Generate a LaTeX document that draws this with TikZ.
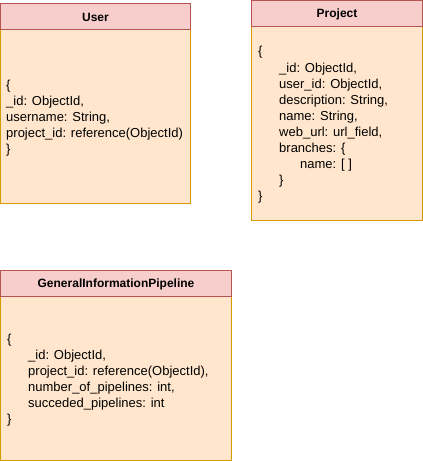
\documentclass[tikz,border=0pt]{standalone}
\usepackage{fontspec}
\setmainfont{Liberation Sans}
\definecolor{hdrfill}{HTML}{F8CECC}
\definecolor{hdrdraw}{HTML}{B85450}
\definecolor{bodyfill}{HTML}{FFE6CC}
\definecolor{bodydraw}{HTML}{D79B00}
\newcommand{\ind}{\hspace*{21pt}}
\newcommand{\indd}{\hspace*{42pt}}
\begin{document}
\begin{tikzpicture}[x=1pt,y=-1pt,
  hdr/.style={draw=hdrdraw, fill=hdrfill, line width=0.8pt},
  bdy/.style={draw=bodydraw, fill=bodyfill, line width=0.8pt},
  ttl/.style={font=\fontsize{12}{14}\selectfont\bfseries, inner sep=0pt},
  txt/.style={font=\fontsize{13}{16.1}\selectfont, align=left, inner sep=0pt, anchor=west}]
\useasboundingbox (0,0) rectangle (423,461);
% User
\draw[bdy] (0.5,29) rectangle (190.5,203.5);
\draw[hdr] (0.5,3.5) rectangle (190.5,29);
\node[ttl] (usert) at (95.5,17) {User};
\node[txt] (userb) at (6,118) {\{\\\_id: ObjectId,\\username: String,\\project\_id: reference(ObjectId)\\\}};
% Project
\draw[bdy] (251.5,26) rectangle (422.5,220.5);
\draw[hdr] (251.5,0.5) rectangle (422.5,26);
\node[ttl] (projt) at (337,14) {Project};
\node[txt] (projb) at (258,125) {\{\\\ind\_id: ObjectId,\\\ind user\_id: ObjectId,\\\ind description: String,\\\ind name: String,\\\ind web\_url: url\_field,\\\ind branches: \{\\\indd name: [ ]\\\ind\}\\\}};
% GeneralInformationPipeline
\draw[bdy] (0.5,296) rectangle (231.5,460);
\draw[hdr] (0.5,270.5) rectangle (231.5,296);
\node[ttl] (gipt) at (116,284) {GeneralInformationPipeline};
\node[txt] (gipb) at (7,380) {\{\\\ind\_id: ObjectId,\\\ind project\_id: reference(ObjectId),\\\ind number\_of\_pipelines: int,\\\ind succeded\_pipelines: int\\\}};
\end{tikzpicture}
\end{document}
